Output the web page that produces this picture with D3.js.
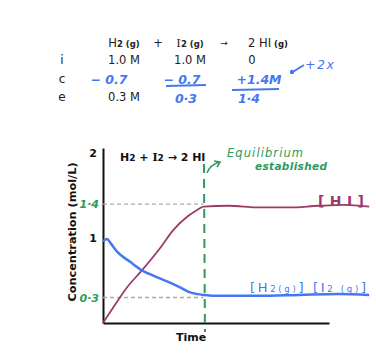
<!DOCTYPE html>
<html>
<head>
<meta charset="utf-8">
<script src="https://cdn.jsdelivr.net/npm/d3@7"></script>
<style>
  body { margin: 0; background: #fff; }
  text { font-family: "DejaVu Sans", Verdana, sans-serif; }
</style>
</head>
<body>
<svg id="paper"></svg>
<script>
// ICE table
let rowLabels = ["i", "c", "e"];
let initial = ["1.0 M", "1.0 M", "0"];
let change = ["-0.7", "-0.7", "+1.4M"];
let equilibrium = ["0.3 M", "0.3", "1.4"];

// concentration vs time
let timeHI = [0, 0.56, 0.96, 1.55, 2.27, 2.79, 3.35, 3.75, 4.0, 5.0, 6.2, 7.4, 8.6, 9.6, 10.6];
let concHI = [0, 0.25, 0.42, 0.62, 0.88, 1.09, 1.25, 1.33, 1.37, 1.38, 1.36, 1.36, 1.38, 1.39, 1.37];
let timeH2 = [0, 0.16, 0.3, 0.56, 1.08, 1.55, 2.07, 2.55, 3.07, 3.47, 3.78, 4.02, 4.7, 6.2, 7.8, 9.4, 10.6];
let concH2 = [0.96, 0.99, 0.94, 0.84, 0.72, 0.62, 0.55, 0.49, 0.42, 0.36, 0.34, 0.33, 0.32, 0.32, 0.33, 0.34, 0.33];
let yTicks = [1, 2];
let eqTime = 4.0;
let eqLevels = [{v: 1.4, label: "1.4"}, {v: 0.3, label: "0.3"}];

let blue = "#4677f2", maroon = "#9c3b68", green = "#2e9a5c";

let svg = d3.select("#paper").attr("width", 376).attr("height", 362);

// ---- table ----
let colX = [124, 190, 252];
let rowY = [64, 83, 101];
let table = svg.append("g");

// header with small bold state subscripts
function species(x, main, sub) {
    let t = table.append("text").attr("x", x).attr("y", 47)
        .attr("text-anchor", "middle").style("font-size", "11.5px").attr("fill", "#222");
    t.append("tspan").style("font-family", main == "I" ? "DejaVu Serif" : null).text(main);
    t.append("tspan").style("font-size", "8.5px").style("font-weight", "bold").text(sub);
}
species(124, "H", "2 (g)");
species(190, "I", "2 (g)");
species(268, "2 HI", " (g)");
table.append("text").attr("x", 158).attr("y", 47).attr("text-anchor", "middle")
    .style("font-size", "11.5px").attr("fill", "#222").text("+");
table.append("text").attr("x", 224).attr("y", 46).attr("text-anchor", "middle")
    .style("font-size", "9px").attr("fill", "#222").text("→");

table.selectAll(".rowlab").data(rowLabels).enter().append("text")
    .attr("x", 62).attr("y", (d, i) => rowY[i]).attr("text-anchor", "middle")
    .style("font-size", "12px").attr("fill", "#222").text(d => d);

table.selectAll(".init").data(initial).enter().append("text")
    .attr("x", (d, i) => colX[i]).attr("y", rowY[0]).attr("text-anchor", "middle")
    .style("font-size", "11.5px").attr("fill", "#222").text(d => d);

// handwritten change row
let changeX = [109, 182, 259];
table.selectAll(".chg").data(change).enter().append("text")
    .attr("x", (d, i) => changeX[i]).attr("y", rowY[1] + 1).attr("text-anchor", "middle")
    .style("font-size", "12.5px").style("font-weight", "bold").style("font-style", "italic")
    .attr("fill", blue).text(d => d.replace("-", "− "));

// equilibrium row: first printed, others handwritten under a rule
table.append("text").attr("x", colX[0]).attr("y", rowY[2]).attr("text-anchor", "middle")
    .style("font-size", "11.5px").attr("fill", "#222").text(equilibrium[0]);
let eqX = [0, 186, 249];
table.selectAll(".eqv").data(equilibrium.slice(1)).enter().append("text")
    .attr("x", (d, i) => eqX[i + 1]).attr("y", rowY[2] + 2).attr("text-anchor", "middle")
    .style("font-size", "12.5px").style("font-weight", "bold").style("font-style", "italic")
    .attr("fill", blue).text(d => d.replace(".", "·"));
table.append("line").attr("x1", 166).attr("x2", 206).attr("y1", 86).attr("y2", 85)
    .attr("stroke", blue).attr("stroke-width", 2);
table.append("line").attr("x1", 232).attr("x2", 279).attr("y1", 90).attr("y2", 89)
    .attr("stroke", blue).attr("stroke-width", 2);
// +2x note
table.append("path").attr("d", "M291,73 L304,65").attr("stroke", blue).attr("stroke-width", 2);
table.append("circle").attr("cx", 292).attr("cy", 72).attr("r", 2.2).attr("fill", blue);
table.append("text").attr("x", 305).attr("y", 69).attr("textLength", 29).style("font-size", "12.5px")
    .style("font-style", "italic").attr("fill", blue).text("+2x");

// ---- chart ----
let x = d3.scaleLinear().domain([0, 9]).range([103, 329]);
let y = d3.scaleLinear().domain([0, 2.06]).range([323, 148]);

let yAxis = svg.append("g").attr("transform", "translate(" + x(0) + ",0)")
    .call(d3.axisLeft(y).tickValues(yTicks).tickSize(0).tickPadding(6).tickFormat(d3.format("d")));
yAxis.select(".domain").attr("stroke", "#111").attr("stroke-width", 2);
yAxis.selectAll("text").style("font-size", "11px").style("font-weight", "bold")
    .style("font-family", "DejaVu Sans").attr("fill", "#111");

let xAxis = svg.append("g").attr("transform", "translate(0," + y(0) + ")")
    .call(d3.axisBottom(x).tickValues([]).tickSizeOuter(0));
xAxis.select(".domain").attr("stroke", "#111").attr("stroke-width", 2);

// equilibrium reference lines
svg.selectAll(".ref").data(eqLevels).enter().append("line")
    .attr("x1", x(0)).attr("x2", x(eqTime))
    .attr("y1", d => y(d.v)).attr("y2", d => y(d.v))
    .attr("stroke", "#aaa").attr("stroke-width", 1.3).attr("stroke-dasharray", "4,3");
svg.selectAll(".reflab").data(eqLevels).enter().append("text")
    .attr("x", x(0) - 4).attr("y", d => y(d.v) + 4).attr("text-anchor", "end")
    .style("font-size", "11px").style("font-style", "italic").style("font-weight", "bold")
    .attr("fill", green).text(d => d.label.replace(".", "·"));

// equilibrium marker
svg.append("line").attr("x1", x(eqTime) + 0.5).attr("x2", x(eqTime) + 1.5)
    .attr("y1", 164).attr("y2", 332)
    .attr("stroke", green).attr("stroke-width", 2).attr("stroke-dasharray", "9,6");
svg.append("path").attr("d", "M207,173 Q210,165 219,162 M214,161 L220,162 L217,167")
    .attr("fill", "none").attr("stroke", green).attr("stroke-width", 1.6);
svg.append("text").attr("x", 227).attr("y", 157).attr("textLength", 76).style("font-size", "11.5px")
    .style("font-style", "italic").attr("fill", green).text("Equilibrium");
svg.append("text").attr("x", 255).attr("y", 170).attr("textLength", 72).style("font-size", "10.5px")
    .style("font-style", "italic").style("font-weight", "bold").attr("fill", green).text("established");

let line = d3.line().x(d => x(d[0])).y(d => y(d[1])).curve(d3.curveMonotoneX);
svg.append("path").datum(d3.zip(timeHI, concHI)).attr("d", line)
    .attr("fill", "none").attr("stroke", maroon).attr("stroke-width", 1.8);
svg.append("path").datum(d3.zip(timeH2, concH2)).attr("d", line)
    .attr("fill", "none").attr("stroke", blue).attr("stroke-width", 2.5);

// line labels
svg.append("text").attr("x", 318).attr("y", 206).attr("textLength", 46).style("font-size", "14px")
    .style("font-weight", "bold").attr("fill", maroon).text("[HI]");
let h2lab = svg.append("text").attr("x", 250).attr("y", 292).attr("textLength", 116)
    .style("font-size", "13px").attr("fill", blue);
h2lab.append("tspan").text("[H");
h2lab.append("tspan").style("font-size", "8.5px").text("2(g)");
h2lab.append("tspan").text("]  [I");
h2lab.append("tspan").style("font-size", "8.5px").text("2 (g)");
h2lab.append("tspan").text("]");

// title + axis titles
let title = svg.append("text").attr("x", 120).attr("y", 161).style("font-size", "11px")
    .style("font-weight", "bold").attr("fill", "#111");
title.append("tspan").text("H");
title.append("tspan").style("font-size", "9px").text("2");
title.append("tspan").text(" + ");
title.append("tspan").style("font-family", "DejaVu Serif").text("I");
title.append("tspan").style("font-size", "9px").text("2");
title.append("tspan").text(" → 2 HI");

svg.append("text").attr("transform", "translate(76,232) rotate(-90)")
    .attr("text-anchor", "middle").style("font-size", "11.3px").style("font-weight", "bold")
    .attr("fill", "#111").text("Concentration (mol/L)");
svg.append("text").attr("x", 191).attr("y", 341).attr("text-anchor", "middle")
    .style("font-size", "11px").style("font-weight", "bold").attr("fill", "#111").text("Time");
</script>
</body>
</html>
